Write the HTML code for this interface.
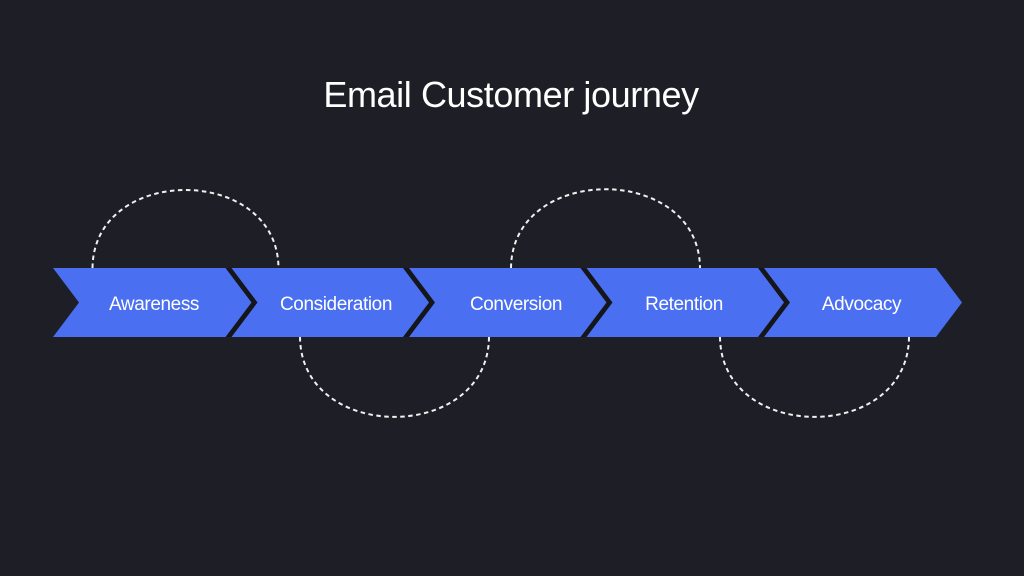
<!DOCTYPE html>
<html>
<head>
<meta charset="utf-8">
<style>
  html, body { margin: 0; padding: 0; background: #1e1f26; }
  body { width: 1024px; height: 576px; overflow: hidden; }
  svg { display: block; }
  text { font-family: "Liberation Sans", Arial, sans-serif; fill: #ffffff; }
</style>
</head>
<body>
<svg width="1024" height="576" viewBox="0 0 1024 576" xmlns="http://www.w3.org/2000/svg">
  <rect x="0" y="0" width="1024" height="576" fill="#1e1f26"/>

  <text x="511" y="107" font-size="36" text-anchor="middle" letter-spacing="-0.4">Email Customer journey</text>

  <!-- dashed arcs -->
  <g fill="none" stroke="#f0f0f0" stroke-width="2" stroke-dasharray="4.5 3.5">
    <path d="M92.5 268 C93.5 164 277.5 164 278.5 268"/>
    <path d="M300 337 C301 443.5 488 443.5 489 337"/>
    <path d="M511 268 C512 163 699 163 700 268"/>
    <path d="M720 337 C721 443.5 908 443.5 909 337"/>
  </g>

  <!-- chevrons -->
  <g fill="#4a6ff0">
    <polygon points="53,268 226,268 252,302.5 226,337 53,337 79,302.5"/>
    <polygon points="230.5,268 403.5,268 429.5,302.5 403.5,337 230.5,337 256.5,302.5"/>
    <polygon points="408,268 581,268 607,302.5 581,337 408,337 434,302.5"/>
    <polygon points="585.5,268 758.5,268 784.5,302.5 758.5,337 585.5,337 611.5,302.5"/>
    <polygon points="763,268 936,268 962,302.5 936,337 763,337 789,302.5"/>
  </g>

  <!-- dark separators -->
  <g fill="#15161a">
    <polygon points="225.5,268 231.5,268 257.5,302.5 231.5,337 225.5,337 251.5,302.5"/>
    <polygon points="403,268 409,268 435,302.5 409,337 403,337 429,302.5"/>
    <polygon points="580.5,268 586.5,268 612.5,302.5 586.5,337 580.5,337 606.5,302.5"/>
    <polygon points="758,268 764,268 790,302.5 764,337 758,337 784,302.5"/>
  </g>

  <!-- labels -->
  <g font-size="19" text-anchor="middle" letter-spacing="-0.4">
    <text x="154" y="310">Awareness</text>
    <text x="336" y="310">Consideration</text>
    <text x="516" y="310">Conversion</text>
    <text x="684" y="310">Retention</text>
    <text x="861.5" y="310">Advocacy</text>
  </g>
</svg>
</body>
</html>
